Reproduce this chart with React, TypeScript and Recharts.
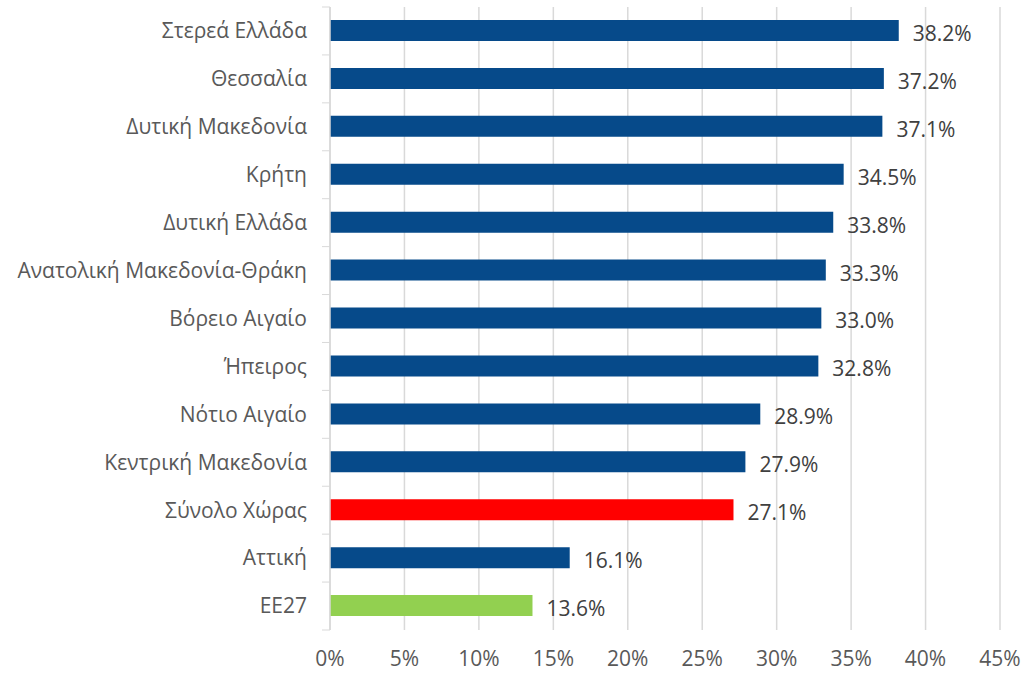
import { Bar, BarChart, CartesianGrid, Cell, LabelList, XAxis, YAxis } from "recharts";

const regions = [
  "Στερεά Ελλάδα",
  "Θεσσαλία",
  "Δυτική Μακεδονία",
  "Κρήτη",
  "Δυτική Ελλάδα",
  "Ανατολική Μακεδονία-Θράκη",
  "Βόρειο Αιγαίο",
  "Ήπειρος",
  "Νότιο Αιγαίο",
  "Κεντρική Μακεδονία",
  "Σύνολο Χώρας",
  "Αττική",
  "ΕΕ27",
];
const shares = [38.2, 37.2, 37.1, 34.5, 33.8, 33.3, 33.0, 32.8, 28.9, 27.9, 27.1, 16.1, 13.6];
const xTicks = [0, 5, 10, 15, 20, 25, 30, 35, 40, 45];

const BLUE = "#064a8a";
const RED = "#ff0000";
const GREEN = "#92d050";
const FONT = "'Open Sans', sans-serif";

const data = regions.map((region, i) => ({ region, share: shares[i] }));

const barColor = (name: string) =>
  name === "Σύνολο Χώρας" ? RED : name === "ΕΕ27" ? GREEN : BLUE;

const TOP = 7;
const PLOT_H = 623;
const band = PLOT_H / regions.length;

function RegionTick(props: any) {
  const { x, y, payload, index } = props;
  const axisX = x + 8;
  return (
    <g>
      <line x1={axisX - 8} x2={axisX} y1={y - band / 2} y2={y - band / 2} stroke="#d9d9d9" />
      {index === regions.length - 1 && (
        <line x1={axisX - 8} x2={axisX} y1={y + band / 2} y2={y + band / 2} stroke="#d9d9d9" />
      )}
      <text x={axisX - 23} y={y} dy="0.35em" textAnchor="end" fill="#595959" fontSize={21} fontFamily={FONT}>
        {payload.value}
      </text>
    </g>
  );
}

export default function App() {
  return (
    <div style={{ position: "absolute", left: 0, top: 0, background: "#fff" }}>
      <BarChart
        width={1025}
        height={673}
        data={data}
        layout="vertical"
        margin={{ top: TOP, right: 25, bottom: 0, left: 0 }}
        barSize={21}
      >
        <CartesianGrid horizontal={false} stroke="#d9d9d9" strokeWidth={1.5} />
        <XAxis
          type="number"
          domain={[0, 45]}
          ticks={xTicks}
          tickFormatter={(v) => `${v}%`}
          axisLine={false}
          tickLine={false}
          tickMargin={15}
          height={43}
          tick={{ fontSize: 21, fill: "#595959", fontFamily: FONT }}
        />
        <YAxis
          type="category"
          dataKey="region"
          width={330}
          interval={0}
          tickLine={false}
          axisLine={{ stroke: "#d9d9d9", strokeWidth: 1.5 }}
          tick={<RegionTick />}
        />
        <Bar dataKey="share" isAnimationActive={false}>
          {data.map((d) => (
            <Cell key={d.region} fill={barColor(d.region)} />
          ))}
          <LabelList
            dataKey="share"
            position="right"
            offset={14}
            dy={3}
            formatter={(v: any) => `${Number(v).toFixed(1)}%`}
            style={{ fontSize: 21, fill: "#404040", fontFamily: FONT }}
          />
        </Bar>
      </BarChart>
    </div>
  );
}
